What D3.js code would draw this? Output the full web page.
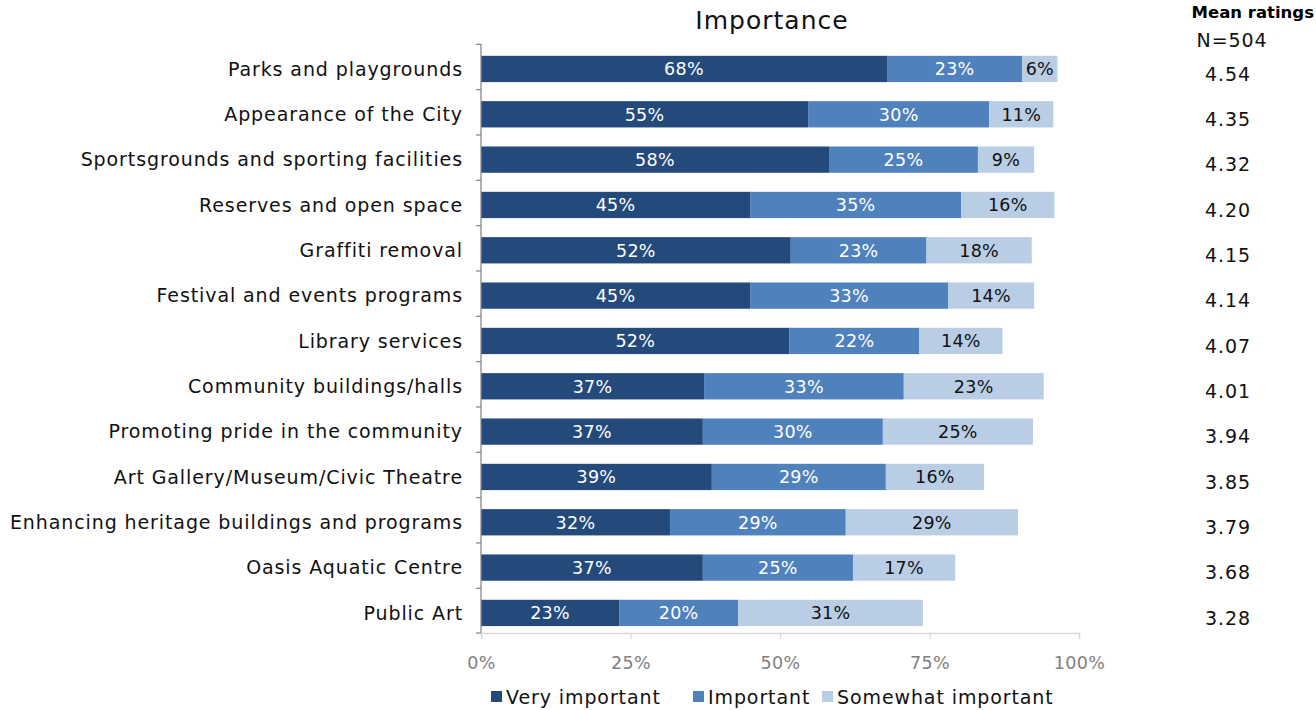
<!DOCTYPE html>
<html><head><meta charset="utf-8">
<script src="https://cdn.jsdelivr.net/npm/d3@7"></script>
<style>body{margin:0;background:#fff}svg{display:block;font-family:"DejaVu Sans",sans-serif}</style>
</head><body><svg id="c" width="1316" height="710"></svg>
<script>
const categories=["Parks and playgrounds","Appearance of the City","Sportsgrounds and sporting facilities","Reserves and open space","Graffiti removal","Festival and events programs","Library services","Community buildings/halls","Promoting pride in the community","Art Gallery/Museum/Civic Theatre","Enhancing heritage buildings and programs","Oasis Aquatic Centre","Public Art"];
const veryImportant=[67.9,54.7,58.2,45.0,51.8,45.0,51.6,37.3,37.1,38.6,31.6,37.1,23.1];
const important=[22.6,30.3,24.9,35.3,22.7,33.1,21.7,33.4,30.1,29.1,29.4,25.1,19.9];
const somewhatImportant=[5.9,10.7,9.4,15.6,17.6,14.4,13.9,23.4,25.1,16.4,28.8,17.1,30.9];
const meanRatings=["4.54","4.35","4.32","4.20","4.15","4.14","4.07","4.01","3.94","3.85","3.79","3.68","3.28"];
const seriesNames=["Very important","Important","Somewhat important"];
const xTicks=[0,25,50,75,100];

const colors=["#244a7c","#4f81bd","#b9cde5"];
const textColors=["#fff","#fff","#111"];
const svg=d3.select("#c");
const m={l:481,r:1079,t:44,b:633};
const x=d3.scaleLinear().domain([0,100]).range([m.l,m.r]);
const yb=d3.scaleBand().domain(categories).range([46.3,635.6]);
const y=d3.scaleBand().domain(categories).range([46.3,635.6]).paddingInner(0.42).paddingOuter(0.21);
const data=categories.map((c,i)=>({c,v:[veryImportant[i],important[i],somewhatImportant[i]]}));
const fmt=v=>Math.round(v)+"%";
const wide=sel=>sel.attr("font-size",19).attr("letter-spacing",0.9);

// bars
data.forEach(d=>{
  let acc=0;
  d.v.forEach((v,k)=>{
    const x0=x(acc),x1=x(acc+v);acc+=v;
    svg.append("rect").attr("x",x0).attr("y",y(d.c)).attr("width",x1-x0).attr("height",y.bandwidth()).attr("fill",colors[k]);
    svg.append("text").attr("x",(x0+x1)/2).attr("y",y(d.c)+y.bandwidth()/2).attr("dy","0.36em")
      .attr("text-anchor","middle").attr("font-size",17.5).attr("letter-spacing",0.3).attr("fill",textColors[k]).text(fmt(v));
  });
});

// y axis
const axisColor="#898989";
svg.append("line").attr("x1",m.l).attr("x2",m.l).attr("y1",m.t).attr("y2",m.b).attr("stroke",axisColor).attr("stroke-width",1.3);
categories.forEach(c=>{
  const yy=yb(c)-2;
  svg.append("line").attr("x1",m.l-5).attr("x2",m.l).attr("y1",yy).attr("y2",yy).attr("stroke",axisColor).attr("stroke-width",1.3);
});
svg.append("line").attr("x1",m.l-5).attr("x2",m.l).attr("y1",m.b).attr("y2",m.b).attr("stroke",axisColor).attr("stroke-width",1.3);
categories.forEach(c=>{
  svg.append("text").attr("x",463).attr("y",yb(c)+yb.bandwidth()/2).attr("dy","0.36em").attr("text-anchor","end")
    .call(wide).attr("fill","#111").text(c);
});
// x axis
const gx=svg.append("g").attr("transform",`translate(0,${m.b})`)
  .call(d3.axisBottom(x).tickValues(xTicks).tickSize(6).tickFormat(d=>d+"%"));
gx.select(".domain").attr("stroke","#d9d9d9").attr("stroke-width",1.3);
gx.selectAll(".tick line").attr("stroke","#d9d9d9").attr("stroke-width",1.3);
gx.selectAll(".tick text").attr("font-size",17.5).attr("letter-spacing",0.4).attr("fill","#7f7f7f").attr("dy","0").attr("y",36).attr("font-family","DejaVu Sans");

// title
svg.append("text").attr("x",772).attr("y",29).attr("text-anchor","middle").attr("font-size",25).attr("letter-spacing",1).attr("fill","#111").text("Importance");
svg.append("text").attr("x",1314).attr("y",18).attr("text-anchor","end").attr("font-size",16.5).attr("font-weight","bold").attr("fill","#000").text("Mean ratings");
svg.append("text").attr("x",1232).attr("y",47).attr("text-anchor","middle").call(wide).attr("fill","#111").text("N=504");
categories.forEach((c,i)=>{
  svg.append("text").attr("x",1228).attr("y",yb(c)+yb.bandwidth()/2+5).attr("dy","0.36em").attr("text-anchor","middle")
    .call(wide).attr("fill","#111").text(meanRatings[i]);
});

// legend
const legX=[491,693,822];
seriesNames.forEach((s,k)=>{
  svg.append("rect").attr("x",legX[k]).attr("y",691).attr("width",11).attr("height",11).attr("fill",colors[k]);
  svg.append("text").attr("x",legX[k]+15).attr("y",697).attr("dy","0.36em").call(wide).attr("fill","#111").text(s);
});
</script></body></html>
